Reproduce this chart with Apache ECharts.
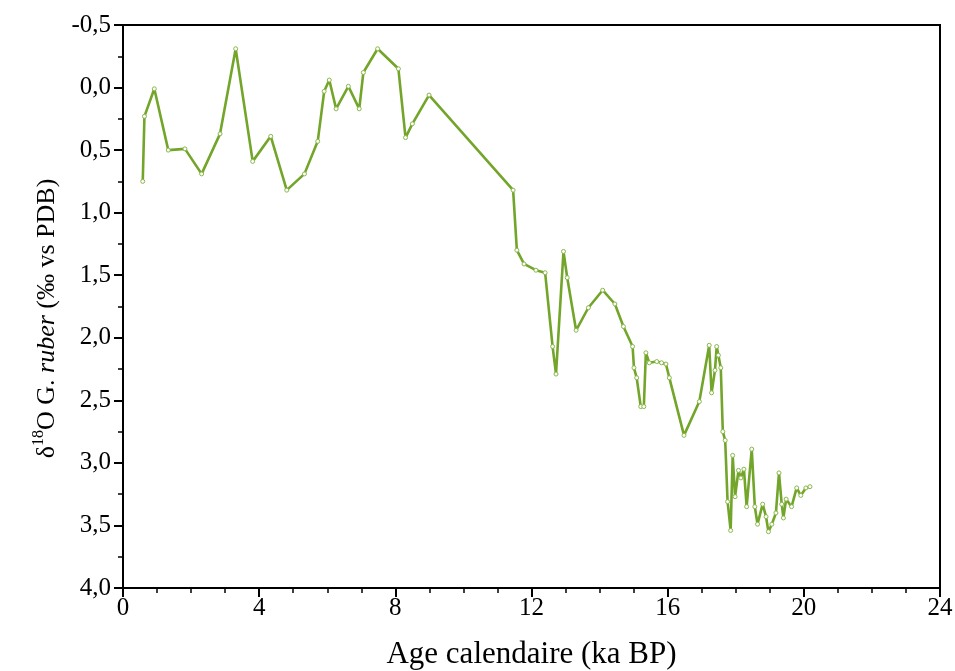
<!DOCTYPE html>
<html>
<head>
<meta charset="utf-8">
<script src="https://cdn.jsdelivr.net/npm/echarts@6/dist/echarts.min.js"></script>
<style>
html,body{margin:0;padding:0;background:#fff;}
#chart{width:955px;height:671px;}
</style>
</head>
<body>
<div id="chart"></div>
<script>
const ages = [0.58,0.63,0.92,1.33,1.82,2.31,2.85,3.31,3.81,4.34,4.81,5.33,5.72,5.91,6.06,6.26,6.62,6.94,7.06,7.48,8.09,8.30,8.50,8.99,11.46,11.57,11.78,12.13,12.40,12.62,12.72,12.94,13.05,13.31,13.67,14.09,14.45,14.70,14.97,15.01,15.09,15.21,15.30,15.36,15.46,15.68,15.82,15.95,16.05,16.48,16.93,17.22,17.29,17.39,17.44,17.49,17.56,17.62,17.69,17.76,17.85,17.91,17.98,18.08,18.15,18.24,18.32,18.47,18.56,18.64,18.79,18.89,18.96,19.06,19.18,19.27,19.35,19.40,19.48,19.64,19.79,19.91,20.06,20.18];
const d18O = [0.75,0.23,0.01,0.50,0.49,0.69,0.37,-0.31,0.59,0.39,0.82,0.69,0.43,0.03,-0.06,0.17,-0.01,0.17,-0.12,-0.31,-0.15,0.40,0.29,0.06,0.82,1.30,1.41,1.46,1.48,2.07,2.29,1.31,1.52,1.94,1.76,1.62,1.73,1.91,2.07,2.24,2.32,2.55,2.55,2.12,2.20,2.19,2.20,2.21,2.32,2.78,2.51,2.06,2.44,2.26,2.07,2.14,2.24,2.75,2.82,3.31,3.54,2.94,3.27,3.06,3.12,3.05,3.35,2.89,3.35,3.49,3.33,3.43,3.55,3.49,3.40,3.08,3.33,3.44,3.29,3.35,3.20,3.26,3.20,3.19];
const xTitle = 'Age calendaire (ka BP)';

const points = ages.map((a, i) => [a, d18O[i]]);
const font = 'Liberation Serif';
const chart = echarts.init(document.getElementById('chart'), null, {renderer: 'canvas'});
chart.setOption({
  animation: false,
  backgroundColor: '#fff',
  grid: {left: 123, right: 15, top: 25, bottom: 83, outerBoundsMode: 'none', containLabel: false, show: true, borderColor: '#000', borderWidth: 2, backgroundColor: 'transparent'},
  xAxis: {
    type: 'value', min: 0, max: 24, interval: 4,
    name: xTitle, nameLocation: 'middle', nameGap: 51,
    nameTextStyle: {fontFamily: font, fontSize: 31, color: '#000'},
    axisLine: {show: true, onZero: false, lineStyle: {color: '#000', width: 2}},
    axisTick: {show: true, inside: false, length: 9, lineStyle: {color: '#000', width: 2}},
    minorTick: {show: true, splitNumber: 4, length: 5, lineStyle: {color: '#000', width: 1.5}},
    axisLabel: {fontFamily: font, fontSize: 25, color: '#000', margin: 8},
    splitLine: {show: false}
  },
  yAxis: {
    type: 'value', min: -0.5, max: 4, interval: 0.5, inverse: true,
    name: '{n|δ}{s|18}{n|O G. }{i|ruber}{n| (‰ vs PDB)}',
    nameLocation: 'middle', nameGap: 58, nameRotate: 90,
    nameTextStyle: {
      fontFamily: font, fontSize: 26, color: '#000', padding: [0, 24, 0, 0],
      rich: {
        n: {fontFamily: font, fontSize: 26, color: '#000'},
        s: {fontFamily: font, fontSize: 16, color: '#000', verticalAlign: 'top', lineHeight: 34},
        i: {fontFamily: font, fontSize: 26, color: '#000', fontStyle: 'italic'}
      }
    },
    axisLine: {show: true, onZero: false, lineStyle: {color: '#000', width: 2}},
    axisTick: {show: true, inside: false, length: 9, lineStyle: {color: '#000', width: 2}},
    minorTick: {show: true, splitNumber: 2, length: 5, lineStyle: {color: '#000', width: 1.5}},
    axisLabel: {fontFamily: font, fontSize: 25, color: '#000', margin: 12,
      formatter: v => v.toFixed(1).replace('.', ',')},
    splitLine: {show: false}
  },
  series: [{
    type: 'line',
    data: points,
    showSymbol: true,
    symbol: 'circle',
    symbolSize: 4,
    itemStyle: {color: '#ffffff', borderColor: '#8ab84a', borderWidth: 1},
    lineStyle: {color: '#72a52a', width: 2.6},
    z: 3
  }]
});
</script>
</body>
</html>
